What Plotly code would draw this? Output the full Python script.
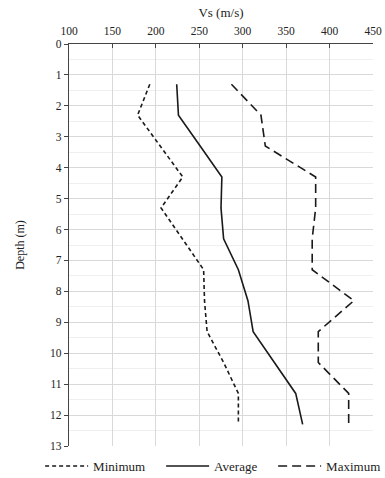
import plotly.graph_objects as go

depth = [1.3, 2.3, 3.3, 4.3, 5.3, 6.3, 7.3, 8.3, 9.3, 10.3, 11.3, 12.3]
vs_min = [193, 179, 205, 231, 206, 230, 255, 256, 259, 278, 295, 295]
vs_avg = [224, 226, 251, 276, 275, 278, 295, 306, 312, 336, 361, 369]
vs_max = [287, 321, 326, 384, 384, 380, 380, 428, 387, 387, 422, 422]

x_ticks = [100, 150, 200, 250, 300, 350, 400, 450]
y_ticks = list(range(0, 14))

FONT = "Liberation Serif, Times New Roman, serif"

fig = go.Figure()
fig.add_trace(go.Scatter(x=vs_min, y=depth, mode="lines", name="Minimum", legendwidth=63,
                         line=dict(color="#1a1a1a", width=1.6, dash="4px,3px")))
fig.add_trace(go.Scatter(x=vs_avg, y=depth, mode="lines", name="Average", legendwidth=54,
                         line=dict(color="#1a1a1a", width=1.6)))
fig.add_trace(go.Scatter(x=vs_max, y=depth, mode="lines", name="Maximum",
                         line=dict(color="#1a1a1a", width=1.6, dash="9px,5px")))

fig.update_layout(
    width=385, height=478,
    margin=dict(l=69, r=12, t=44, b=32, autoexpand=False),
    paper_bgcolor="white", plot_bgcolor="white",
    font=dict(family=FONT, size=12, color="#222"),
    showlegend=True,
    legend=dict(orientation="h", x=-0.095, xanchor="left", y=-0.05, yanchor="middle",
                font=dict(family=FONT, size=13, color="#222"),
                itemwidth=43, tracegroupgap=0, bgcolor="rgba(0,0,0,0)"),
    xaxis=dict(side="top", range=[100, 450], tickvals=x_ticks,
               showgrid=True, gridcolor="#d9d9d9", gridwidth=1,
               showline=True, linecolor="#444", linewidth=1.2,
               ticks="inside", ticklen=4, tickcolor="#444",
               zeroline=False, automargin=False, ticklabelstandoff=3,
               title=dict(text="Vs (m/s)", font=dict(family=FONT, size=13), standoff=4),
               tickfont=dict(family=FONT, size=11.5)),
    yaxis=dict(range=[13, 0], tickvals=y_ticks,
               showgrid=True, gridcolor="#d9d9d9", gridwidth=1,
               minor=dict(dtick=0.5, showgrid=True, gridcolor="#efefef", gridwidth=1),
               showline=True, linecolor="#444", linewidth=1.2,
               ticks="outside", ticklen=4, tickcolor="#444",
               zeroline=False, automargin=False,
               title=dict(text="Depth (m)", font=dict(family=FONT, size=12), standoff=22),
               tickfont=dict(family=FONT, size=11.5)),
)

fig.write_html("out.html", config={"displayModeBar": False},
               post_script="document.body.style.margin='0px';")
